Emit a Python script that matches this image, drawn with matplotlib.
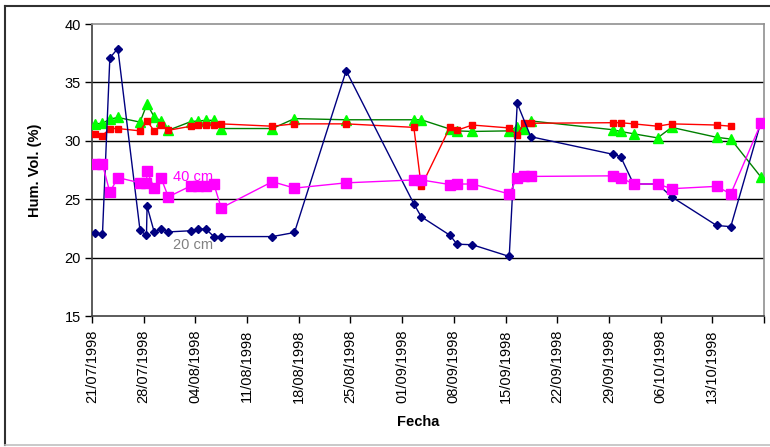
import matplotlib
matplotlib.use('Agg')
import matplotlib.pyplot as plt
import numpy as np
import pandas as pd
from matplotlib.lines import Line2D

plt.rcParams['font.family'] = ['Liberation Sans', 'DejaVu Sans']

# sampling dates (day/month hour)
fechas = ['1998-07-21 10:00', '1998-07-22 10:00', '1998-07-23 10:00', '1998-07-24 12:00',
          '1998-07-27 12:00', '1998-07-28 09:00', '1998-07-28 11:00', '1998-07-29 10:00',
          '1998-07-30 08:00', '1998-07-31 08:00', '1998-08-03 10:00', '1998-08-04 10:00',
          '1998-08-05 10:00', '1998-08-06 12:00', '1998-08-07 12:00', '1998-08-14 10:00',
          '1998-08-17 10:00', '1998-08-24 10:00', '1998-09-02 14:00', '1998-09-03 14:00',
          '1998-09-07 12:00', '1998-09-08 10:00', '1998-09-10 12:00', '1998-09-15 12:00',
          '1998-09-16 14:00', '1998-09-17 12:00', '1998-09-18 10:00', '1998-09-29 12:00',
          '1998-09-30 14:00', '1998-10-02 08:00', '1998-10-05 14:00', '1998-10-07 12:00',
          '1998-10-13 14:00', '1998-10-15 12:00', '1998-10-19 14:00']

nan = np.nan
hum_20 = [22.1, 22.0, 37.1, 37.9, 22.35, 21.9, 24.4, 22.2, 22.45, 22.2, 22.3, 22.45,
          22.45, 21.8, 21.8, 21.8, 22.15, 36.0, 24.6, 23.5, 21.9, 21.15, 21.1, 20.1,
          33.2, nan, 30.35, 28.85, 28.65, 26.3, 26.3, 25.2, 22.75, 22.65, 31.6]
hum_40 = [28.0, 28.0, 25.6, 26.85, 26.4, 26.4, 27.4, 25.95, 26.85, 25.2, 26.15, 26.15,
          26.15, 26.3, 24.25, 26.5, 25.95, 26.4, 26.65, 26.65, 26.25, 26.3, 26.3, 25.45,
          26.85, 26.95, 26.95, 27.0, 26.85, 26.3, 26.3, 25.9, 26.1, 25.45, 31.5]
hum_r = [30.6, 30.45, 31.05, 31.05, 30.85, nan, 31.7, 30.85, 31.35, 30.9, 31.25, 31.35,
         31.35, 31.35, 31.45, 31.25, 31.45, 31.45, 31.15, 26.1, 31.2, 30.9, 31.35, 31.1,
         30.5, 31.5, 31.5, 31.55, 31.55, 31.45, 31.25, 31.45, 31.35, 31.25, nan]
hum_g = [31.45, 31.5, 31.85, 32.0, 31.6, nan, 33.15, 32.05, 31.7, 30.9, 31.65, 31.7,
         31.75, 31.75, 31.05, 31.05, 31.9, 31.8, 31.8, 31.8, 31.0, 30.85, 30.8, 30.85,
         31.2, 31.0, 31.7, 30.95, 30.8, 30.6, 30.25, 31.15, 30.3, 30.15, 26.9]

x = pd.to_datetime(fechas)


def plot_serie(ax, vals, **kw):
    v = np.array(vals, dtype=float)
    m = np.isfinite(v)
    ax.plot(x[m], v[m], **kw)


fig = plt.figure(figsize=(7.7, 4.47), dpi=100)
ax = fig.add_axes([92 / 770, 131 / 447, 672 / 770, 292 / 447])

# grid
for yv in [20, 25, 30, 35]:
    ax.axhline(yv, color='black', lw=1.0, zorder=1)

plot_serie(ax, hum_g, color='#008000', lw=1, marker='^', ms=7,
           mfc='#00FF00', mec='#00FF00', zorder=3)
plot_serie(ax, hum_r, color='#FF0000', lw=1, marker='s', ms=4.5,
           mfc='#FF0000', mec='#FF0000', zorder=4)
plot_serie(ax, hum_20, color='#000080', lw=1, marker='D', ms=4.5,
           mfc='#000080', mec='#000080', zorder=5)
plot_serie(ax, hum_40, color='#FF00FF', lw=1, marker='s', ms=6.5,
           mfc='#FF00FF', mec='#FF00FF', zorder=6)

ax.set_ylim(15, 40)
ax.set_yticks([15, 20, 25, 30, 35, 40])
ax.set_xlim(pd.Timestamp('1998-07-21'), pd.Timestamp('1998-10-20'))
ticks = pd.date_range('1998-07-21', '1998-10-20', freq='7D')
ax.set_xticks(ticks)
ax.set_xticklabels([t.strftime('%d/%m/%Y') if i < len(ticks) - 1 else ''
                    for i, t in enumerate(ticks)], rotation=90)
ax.tick_params(axis='both', direction='out', length=5, width=1, labelsize=10.5,
               colors='black')
ax.tick_params(axis='x', pad=5)
ax.tick_params(axis='y', pad=3)

for s in ['left', 'bottom']:
    ax.spines[s].set_color('#404040')
    ax.spines[s].set_linewidth(1.2)
for s in ['top', 'right']:
    ax.spines[s].set_color('#909090')
    ax.spines[s].set_linewidth(1.2)

ax.set_ylabel('Hum. Vol. (%)', fontsize=10.5, fontweight='bold', labelpad=16)
fig.text(418 / 770, 1 - 422 / 447, 'Fecha', fontsize=10.5, fontweight='bold',
         ha='center', va='center')

ax.text(pd.Timestamp('1998-08-01 00:00'), 26.9, '40 cm', color='#FF00FF',
        fontsize=10.5, va='center')
ax.text(pd.Timestamp('1998-08-01 00:00'), 21.1, '20 cm', color='#808080',
        fontsize=10.5, va='center', zorder=7)

# chart frame
fig.add_artist(Line2D([5 / 770, 5 / 770], [1 - 6 / 447, 1 - 445 / 447],
                      transform=fig.transFigure, color='#303030', lw=1.5))
fig.add_artist(Line2D([5 / 770, 1], [1 - 6 / 447, 1 - 6 / 447],
                      transform=fig.transFigure, color='#303030', lw=1.5))
fig.add_artist(Line2D([5 / 770, 1], [1 - 445 / 447, 1 - 445 / 447],
                      transform=fig.transFigure, color='#C0C0C0', lw=1.2))

fig.savefig('out.png', dpi=100)
